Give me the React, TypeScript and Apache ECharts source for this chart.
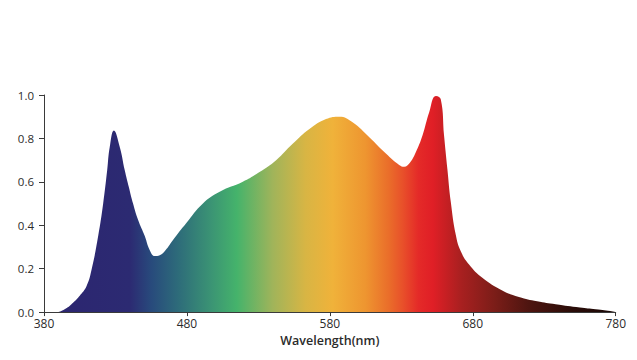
import React, { useEffect, useRef } from "react";
import * as echarts from "echarts";

const wavelengths = [
  380, 388.8, 395, 400.5, 405, 409.8, 413.3, 417.9, 421.4, 424.2, 426, 428.9, 433, 436.5, 439.3, 442.3, 445.8,
  450.5, 454, 457.5, 461, 465, 470, 479.6, 491.2, 502.9, 519.1, 530.8, 542.4, 554, 565.7, 577.3, 586.6, 595.9,
  607.6, 619.2, 628.5, 632, 636, 640.2, 644.8, 649.5, 654.1, 657.6, 659.9, 662.2, 664.6, 668.1, 671.6, 677.4,
  686.7, 700.6, 712.3, 725, 738, 755, 766, 778, 780,
];
const intensity = [
  0, 0, 0.015, 0.044, 0.075, 0.12, 0.196, 0.35, 0.5, 0.653, 0.76, 0.836, 0.76, 0.653, 0.577, 0.5, 0.425,
  0.35, 0.285, 0.258, 0.262, 0.285, 0.33, 0.41, 0.5, 0.554, 0.6, 0.645, 0.7, 0.775, 0.843, 0.889, 0.9, 0.874,
  0.805, 0.73, 0.678, 0.67, 0.688, 0.737, 0.813, 0.92, 0.995, 0.98, 0.813, 0.66, 0.508, 0.356, 0.28, 0.219,
  0.158, 0.1, 0.07, 0.05, 0.036, 0.021, 0.013, 0.003, 0,
];
const xTicks = [380, 480, 580, 680, 780];
const yTicks = [0, 0.2, 0.4, 0.6, 0.8, 1.0];

const spectrumStops: [number, string][] = [
  [380, "#2c2570"],
  [440, "#2c2a72"],
  [455, "#284a7c"],
  [473, "#2d6a7a"],
  [497, "#3b9474"],
  [515, "#45b36b"],
  [540, "#a0b45a"],
  [563, "#d8b544"],
  [582, "#f0b23a"],
  [605, "#ee9530"],
  [621, "#ea6e2a"],
  [631, "#e8502a"],
  [642, "#e42a28"],
  [652, "#e01f26"],
  [672, "#a82020"],
  [696, "#7a1d18"],
  [719, "#4e1510"],
  [750, "#2a0c08"],
  [780, "#1a0806"],
];

export default function App() {
  const ref = useRef<HTMLDivElement>(null);
  useEffect(() => {
    if (!ref.current) return;
    const chart = echarts.init(ref.current, undefined, { renderer: "svg" });
    const xMin = xTicks[0];
    const xMax = xTicks[xTicks.length - 1];
    const font = "'Open Sans', 'Noto Sans', sans-serif";
    chart.setOption({
      animation: false,
      grid: { left: 36, right: 12, top: 87, bottom: 39 },
      xAxis: {
        type: "value",
        min: xMin,
        max: xMax,
        interval: 100,
        name: "Wavelength(nm)",
        nameLocation: "middle",
        nameGap: 21,
        nameTextStyle: { color: "#2b2b2b", fontSize: 12.5, fontWeight: 600, fontFamily: font },
        axisLine: { show: true, lineStyle: { color: "#3a3a3a", width: 1 } },
        axisTick: { show: true, length: 4, lineStyle: { color: "#3a3a3a" } },
        axisLabel: { color: "#2b2b2b", fontSize: 12, fontFamily: font, margin: 5 },
        splitLine: { show: false },
      },
      yAxis: {
        type: "value",
        min: yTicks[0],
        max: yTicks[yTicks.length - 1],
        interval: 0.2,
        axisLine: { show: true, lineStyle: { color: "#3a3a3a", width: 1 } },
        axisTick: { show: true, length: 5, lineStyle: { color: "#3a3a3a" } },
        axisLabel: {
          color: "#2b2b2b",
          fontSize: 11.5,
          fontFamily: font,
          margin: 10,
          formatter: (v: number) => v.toFixed(1),
        },
        splitLine: { show: false },
      },
      series: [
        {
          type: "line",
          data: wavelengths.map((w, i) => [w, intensity[i]]),
          smooth: 0.45,
          showSymbol: false,
          symbol: "none",
          lineStyle: { width: 0 },
          areaStyle: {
            opacity: 1,
            color: new echarts.graphic.LinearGradient(
              0,
              0,
              1,
              0,
              spectrumStops.map(([nm, c]) => ({ offset: (nm - xMin) / (xMax - xMin), color: c }))
            ),
          },
          z: 1,
        },
      ],
    });
    return () => chart.dispose();
  }, []);
  return <div ref={ref} style={{ width: 621, height: 344 }} />;
}
